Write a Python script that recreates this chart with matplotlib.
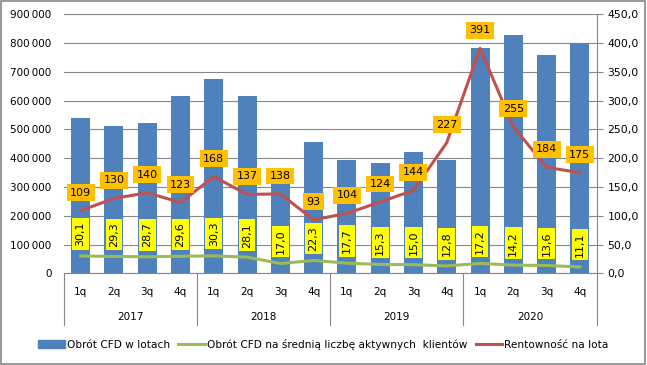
import matplotlib.pyplot as plt
from matplotlib.patches import Rectangle
from matplotlib.lines import Line2D

years = ['2017', '2018', '2019', '2020']
quarters = ['1q', '2q', '3q', '4q']

# Obrót CFD w lotach (left axis)
obrot = [540000, 512000, 522000, 616000,
         675000, 616000, 330000, 456000,
         394000, 383000, 421000, 394000,
         783000, 828000, 759000, 800000]
# Obrót CFD na średnią liczbę aktywnych klientów (right axis)
obrot_klient = [30.1, 29.3, 28.7, 29.6,
                30.3, 28.1, 17.0, 22.3,
                17.7, 15.3, 15.0, 12.8,
                17.2, 14.2, 13.6, 11.1]
# Rentowność na lota (right axis)
rentownosc = [109, 130, 140, 123,
              168, 137, 138, 93,
              104, 124, 144, 227,
              391, 255, 184, 175]

BLUE = '#4F81BD'
GREEN = '#9BBB59'
RED = '#C0504D'
GRID = '#878787'

plt.rcParams['font.family'] = 'DejaVu Sans'

fig = plt.figure(figsize=(6.47, 3.65), dpi=100)
ax = fig.add_axes([64 / 647, 1 - 273.3 / 365, 532.5 / 647, 259 / 365])
ax2 = ax.twinx()

n = len(obrot)
x = list(range(n))

ax.bar(x, obrot, width=0.57, color=BLUE, zorder=2)
ax.set_xlim(-0.5, n - 0.5)
ax.set_ylim(0, 900000)
ax.set_yticks(range(0, 900001, 100000))
ax.set_yticklabels([f'{v:,}'.replace(',', '\u2009') for v in range(0, 900001, 100000)],
                   fontsize=7.5)
ax.yaxis.grid(True, color=GRID, linewidth=0.8, zorder=0)
ax.set_axisbelow(True)
ax.tick_params(axis='y', length=0, pad=9)

ax.set_xticks(x)
ax.set_xticklabels(quarters * len(years), fontsize=7.5)
ax.tick_params(axis='x', length=0, pad=10)

for side in ['top', 'left', 'right']:
    ax.spines[side].set_visible(False)
ax.spines['bottom'].set_color(GRID)
ax.spines['bottom'].set_linewidth(0.8)

# year level of the category axis
trans = ax.get_xaxis_transform()
nq = len(quarters)
for i, yr in enumerate(years):
    ax.text(i * nq + (nq - 1) / 2, -0.168, yr, transform=trans,
            ha='center', va='center', fontsize=7.5)
for i in range(len(years) + 1):
    xs = i * nq - 0.5
    ax.plot([xs, xs], [0, -0.2], transform=trans, color=GRID,
            linewidth=0.8, clip_on=False)

ax2.plot(x, obrot_klient, color=GREEN, linewidth=2.2, zorder=3)
ax2.plot(x, rentownosc, color=RED, linewidth=2.2, zorder=3)
ax2.set_ylim(0, 450)
ax2.set_yticks(range(0, 451, 50))
ax2.set_yticklabels([f'{v:.1f}'.replace('.', ',') for v in range(0, 451, 50)],
                    fontsize=7.8)
ax2.tick_params(axis='y', length=4, color=GRID, pad=4)
for side in ['top', 'left', 'bottom']:
    ax2.spines[side].set_visible(False)
ax2.spines['right'].set_color(GRID)
ax2.spines['right'].set_linewidth(0.8)

for xi, v in zip(x, obrot_klient):
    ax2.annotate(f'{v:.1f}'.replace('.', ','), (xi, v), xytext=(0, 22),
                 textcoords='offset pixels', ha='center', va='center',
                 rotation=90, fontsize=8,
                 bbox=dict(boxstyle='square,pad=0.3', fc='#FFFF00', ec='none'),
                 zorder=5)
for xi, v in zip(x, rentownosc):
    ax2.annotate(f'{v}', (xi, v), xytext=(0, 18),
                 textcoords='offset pixels', ha='center', va='center',
                 fontsize=8,
                 bbox=dict(boxstyle='square,pad=0.3', fc='#FFC000', ec='none'),
                 zorder=5)

handles = [Rectangle((0, 0), 1, 1, color=BLUE),
           Line2D([], [], color=GREEN, linewidth=2.2),
           Line2D([], [], color=RED, linewidth=2.2)]
labels = ['Obrót CFD w lotach',
          'Obrót CFD na średnią liczbę aktywnych  klientów',
          'Rentowność na lota']
fig.legend(handles, labels, loc='center', bbox_to_anchor=(0.5, 1 - 344 / 365),
           ncol=3, frameon=False, fontsize=7.6, handlelength=2.5,
           handleheight=0.75, handletextpad=0.2, columnspacing=0.8)

fig.patches.append(Rectangle((0.002, 0.003), 0.995, 0.994, transform=fig.transFigure,
                             fill=False, edgecolor='#888888', linewidth=1.2))

fig.savefig('out.png', dpi=100)
